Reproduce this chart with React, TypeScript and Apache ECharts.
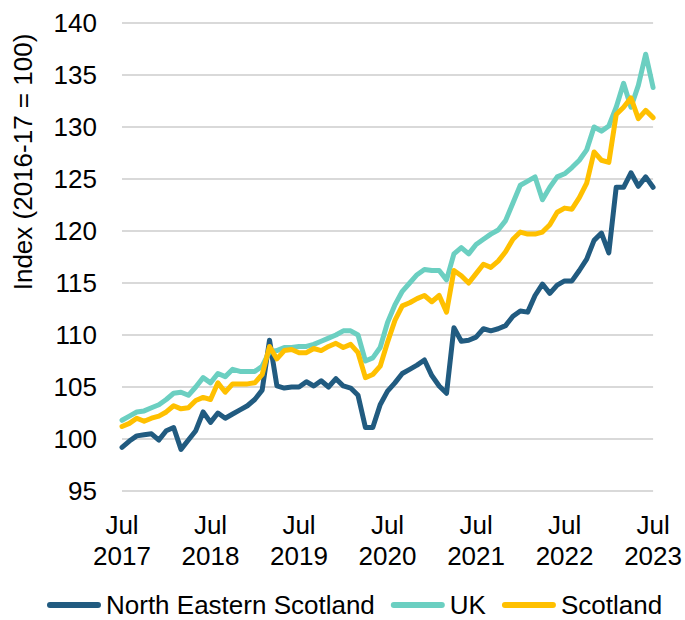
import React, { useEffect, useRef } from "react";
import * as echarts from "echarts";

const MONTH_NAMES = ["Jan", "Feb", "Mar", "Apr", "May", "Jun", "Jul", "Aug", "Sep", "Oct", "Nov", "Dec"];
const START_YEAR = 2017;
const START_MONTH = 6; // July (0-based)
const N_MONTHS = 73; // Jul 2017 .. Jul 2023

const categories: string[] = [];
for (let i = 0; i < N_MONTHS; i++) {
  const m = (START_MONTH + i) % 12;
  const y = START_YEAR + Math.floor((START_MONTH + i) / 12);
  categories.push(`${MONTH_NAMES[m]} ${y}`);
}

const seriesNames = ["North Eastern Scotland", "UK", "Scotland"];

const northEasternScotland = [
  99.2, 99.8, 100.3, 100.4, 100.5, 99.9, 100.8, 101.1, 99.0, 99.9,
  100.8, 102.6, 101.6, 102.5, 102.0, 102.4, 102.8, 103.2, 103.8, 104.7,
  109.5, 105.1, 104.9, 105.0, 105.0, 105.5, 105.1, 105.6, 105.0, 105.8,
  105.1, 104.9, 104.2, 101.1, 101.1, 103.3, 104.6, 105.4, 106.3, 106.7,
  107.1, 107.6, 106.1, 105.1, 104.4, 110.7, 109.4, 109.5, 109.8, 110.6,
  110.4, 110.6, 110.9, 111.8, 112.3, 112.2, 113.8, 114.9, 114.0, 114.8,
  115.2, 115.2, 116.2, 117.3, 119.1, 119.8, 117.9, 124.2, 124.2, 125.6,
  124.3, 125.2, 124.2,
];

const uk = [
  101.8, 102.2, 102.6, 102.7, 103.0, 103.3, 103.8, 104.4, 104.5, 104.2,
  105.0, 105.9, 105.4, 106.3, 106.0, 106.7, 106.5, 106.5, 106.5, 107.0,
  108.4, 108.5, 108.8, 108.8, 108.9, 108.9, 109.1, 109.4, 109.7, 110.0,
  110.4, 110.4, 110.0, 107.5, 107.8, 108.8, 111.2, 112.9, 114.2, 115.0,
  115.8, 116.3, 116.2, 116.2, 115.3, 117.8, 118.4, 117.8, 118.7, 119.2,
  119.7, 120.1, 121.0, 122.7, 124.4, 124.8, 125.2, 123.0, 124.2, 125.2,
  125.5, 126.1, 126.8, 127.8, 130.0, 129.6, 130.1, 131.9, 134.2, 131.9,
  134.0, 137.0, 133.8,
];

const scotland = [
  101.2, 101.5, 102.0, 101.7, 102.0, 102.2, 102.6, 103.2, 102.9, 103.0,
  103.7, 104.0, 103.8, 105.4, 104.5, 105.3, 105.3, 105.3, 105.4, 106.2,
  108.9, 107.7, 108.5, 108.6, 108.3, 108.3, 108.7, 108.5, 108.9, 109.2,
  108.8, 109.1, 108.3, 105.9, 106.2, 107.0, 109.3, 111.4, 112.8, 113.1,
  113.5, 113.8, 113.2, 113.8, 112.2, 116.2, 115.7, 115.0, 115.9, 116.8,
  116.5, 117.1, 118.0, 119.2, 119.9, 119.7, 119.7, 119.9, 120.6, 121.8,
  122.2, 122.1, 123.2, 124.6, 127.6, 126.8, 126.6, 131.2, 131.9, 132.8,
  130.8, 131.6, 130.9,
];

const Y_MIN = 95;
const Y_MAX = 140;
const Y_STEP = 5;

const COLORS = ["#215B80", "#6BCFC1", "#FFC000"];
const FONT = "'Liberation Sans', Arial, sans-serif";

export default function App() {
  const ref = useRef<HTMLDivElement>(null);

  useEffect(() => {
    document.body.style.margin = "0";
    if (!ref.current) return;
    const chart = echarts.init(ref.current, null, { renderer: "svg" });
    const data = [northEasternScotland, uk, scotland];
    chart.setOption({
      animation: false,
      backgroundColor: "#ffffff",
      textStyle: { fontFamily: FONT },
      grid: { left: 122, right: 26, top: 23, bottom: 129, containLabel: false },
      legend: {
        data: seriesNames,
        left: 47,
        top: 592,
        itemWidth: 54,
        itemHeight: 6,
        itemGap: 16,
        padding: 0,
        icon: "path://M3,0 H51 A3,3 0 0 1 51,6 H3 A3,3 0 0 1 3,0 Z",
        textStyle: { fontSize: 26, lineHeight: 22, color: "#000", fontFamily: FONT },
      },
      graphic: [
        {
          type: "text",
          x: 23,
          y: 162,
          rotation: Math.PI / 2,
          style: {
            text: "Index (2016-17 = 100)",
            font: `26px ${FONT}`,
            fill: "#000",
            textAlign: "center",
            textVerticalAlign: "middle",
          },
        },
      ],
      xAxis: {
        type: "category",
        data: categories,
        boundaryGap: false,
        axisLine: { show: false },
        axisTick: { show: false },
        splitLine: { show: false },
        axisLabel: {
          interval: 11,
          formatter: (v: string) => v.replace(" ", "\n"),
          fontSize: 26,
          lineHeight: 31,
          color: "#000",
          margin: 18,
          fontFamily: FONT,
        },
      },
      yAxis: {
        type: "value",
        min: Y_MIN,
        max: Y_MAX,
        interval: Y_STEP,
        axisLine: { show: false },
        axisTick: { show: false },
        axisLabel: { fontSize: 26, color: "#000", margin: 25, fontFamily: FONT },
        splitLine: { lineStyle: { color: "#D9D9D9", width: 2 } },
      },
      series: seriesNames.map((name, k) => ({
        name,
        type: "line",
        data: data[k],
        symbol: "none",
        color: COLORS[k],
        lineStyle: { width: 5, color: COLORS[k], join: "round", cap: "round" },
        z: 2 + k,
      })),
    });
    return () => chart.dispose();
  }, []);

  return <div ref={ref} style={{ width: 685, height: 620 }} />;
}
